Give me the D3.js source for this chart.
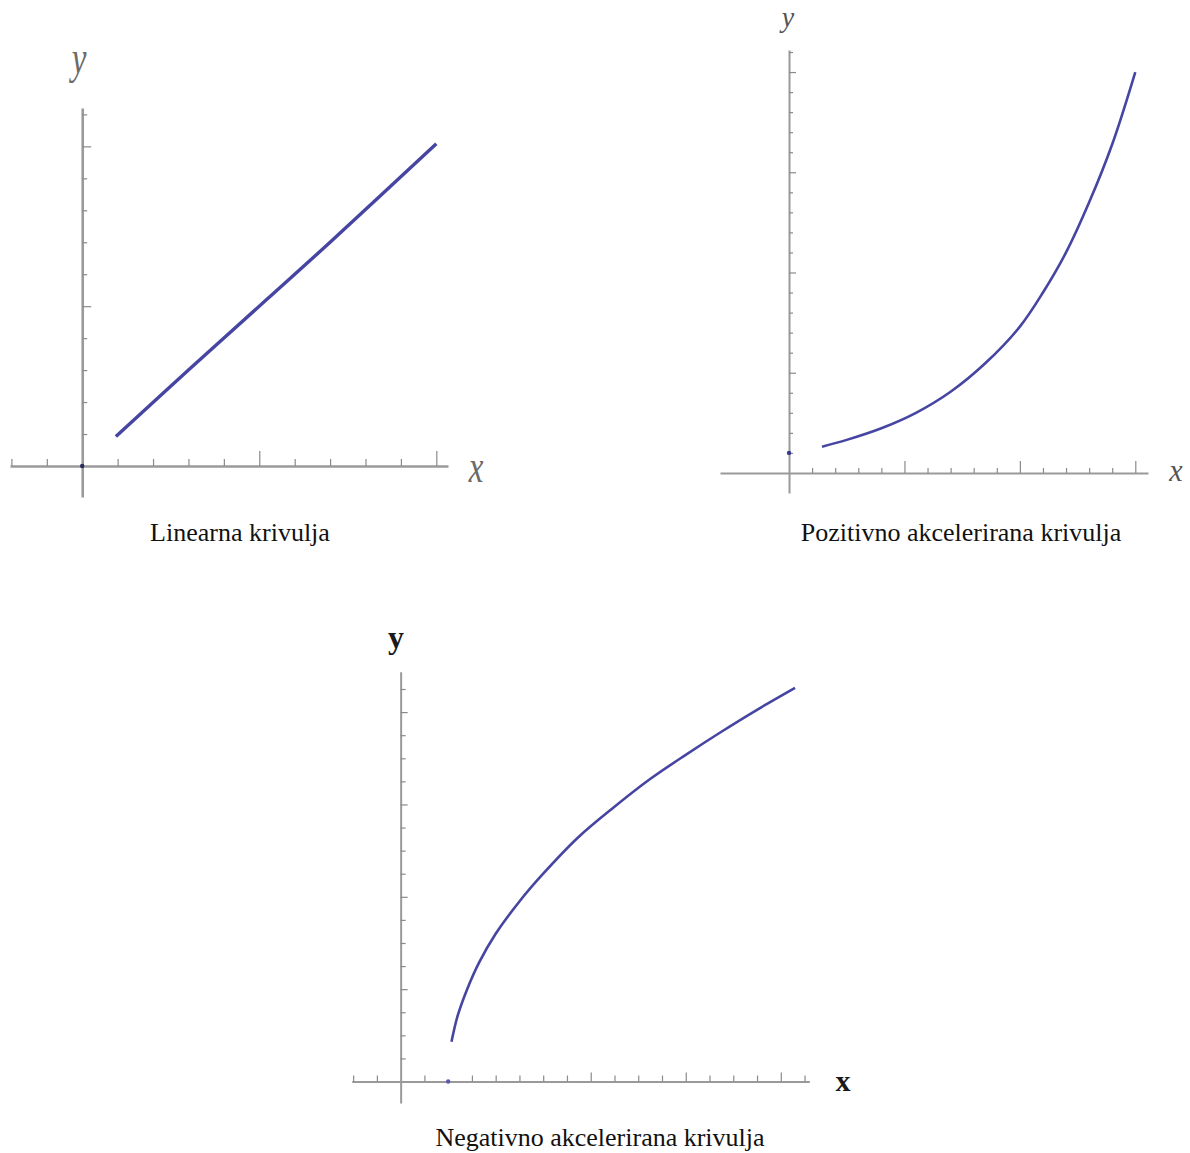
<!DOCTYPE html>
<html>
<head>
<meta charset="utf-8">
<script src="https://cdn.jsdelivr.net/npm/d3@7"></script>
<style>
  body { margin: 0; background: #fff; }
  svg { display: block; }
  .cap { font-family: "Liberation Serif", "Times New Roman", serif; font-size: 26px; fill: #111; }
</style>
</head>
<body>
<svg id="chart" width="1190" height="1153"></svg>
<script>
// values
const linearX = [0.95, 3, 5.2, 7, 10];
const linearY = [0.92, 3, 5.2, 7, 10.08];

const posX = [1.43, 2.5, 4, 5.5, 7, 8.5, 10, 11, 12, 13, 14, 15];
const posY = [1.31, 1.65, 2.23, 3.0, 4.05, 5.47, 7.3, 9.0, 11.0, 13.5, 16.4, 20.0];

const negX = [2.14, 2.4, 2.8, 3.3, 4, 5, 6, 7.5, 9, 10.5, 12, 13.5, 15, 16.6];
const negY = [1.72, 2.85, 4.0, 5.15, 6.4, 7.8, 9.0, 10.6, 11.9, 13.1, 14.15, 15.15, 16.1, 17.05];

// start dots
const linearDot = [0, 0];
const posDot = [0, 1];
const negDot = [2, 0];

// tick values
const linearXTicks = [-2, -1, 1, 2, 3, 4, 6, 7, 8, 9];
const linearXMajor = [5, 10];
const linearYTicks = [1, 2, 3, 4, 6, 7, 8, 9, 11];
const linearYMajor = [5, 10];

const posXTicks = [1, 2, 3, 4, 6, 7, 8, 9, 11, 12, 13, 14];
const posXMajor = [5, 10, 15];
const posYTicks = [1, 2, 3, 4, 6, 7, 8, 9, 11, 12, 13, 14, 16, 17, 18, 19, 21];
const posYMajor = [5, 10, 15, 20];

const negXTicks = [-2, -1, 1, 3, 4, 5, 6, 7, 9, 10, 11, 13, 14, 15, 17];
const negXMajor = [8, 12, 16];
const negYTicks = [1, 2, 3, 5, 6, 7, 9, 10, 11, 13, 14, 15, 17];
const negYMajor = [4, 8, 12, 16];

const captions = ["Linearna krivulja", "Pozitivno akcelerirana krivulja", "Negativno akcelerirana krivulja"];

const lineColor = "#4646a2";
const axisColor = "#9a9a9a";
const svg = d3.select("#chart");

function panel(cfg) {
  const x = d3.scaleLinear().domain(cfg.xDom).range(cfg.xRange);
  const y = d3.scaleLinear().domain(cfg.yDom).range(cfg.yRange);
  const g = svg.append("g");

  // x axis, ticks pointing up
  const gx = g.append("g").attr("transform", `translate(0,${y(0)})`);
  gx.call(d3.axisTop(x).tickValues(cfg.xTicks).tickSize(cfg.xMinor).tickSizeOuter(0).tickFormat(""));
  gx.append("g").call(d3.axisTop(x).tickValues(cfg.xMajor).tickSize(cfg.xMajorLen).tickSizeOuter(0).tickFormat(""))
    .select(".domain").remove();

  // y axis, ticks pointing right
  const gy = g.append("g").attr("transform", `translate(${x(0)},0)`);
  gy.call(d3.axisRight(y).tickValues(cfg.yTicks).tickSize(cfg.yMinor).tickSizeOuter(0).tickFormat(""));
  gy.append("g").call(d3.axisRight(y).tickValues(cfg.yMajor).tickSize(cfg.yMajorLen).tickSizeOuter(0).tickFormat(""))
    .select(".domain").remove();

  g.selectAll(".domain").attr("stroke", axisColor).attr("stroke-width", cfg.axisW);
  g.selectAll(".tick line").attr("stroke", "#8a8a8a").attr("stroke-width", 1.2);

  const pts = cfg.xs.map((v, i) => [v, cfg.ys[i]]);
  g.append("path")
    .datum(pts)
    .attr("fill", "none")
    .attr("stroke", lineColor)
    .attr("stroke-width", cfg.lineW)
    .attr("d", d3.line().x(d => x(d[0])).y(d => y(d[1])).curve(d3.curveCatmullRom.alpha(0.5)));

  g.append("circle")
    .attr("cx", x(cfg.dot[0])).attr("cy", y(cfg.dot[1]))
    .attr("r", 2.2).attr("fill", cfg.dotColor);

  // axis letters
  g.append("text")
    .attr("transform", `translate(${cfg.yLab[0]},${cfg.yLab[1]}) scale(1,${cfg.stretch})`)
    .attr("text-anchor", "middle")
    .style("font-family", "'Liberation Serif', 'Times New Roman', serif")
    .style("font-size", cfg.labSize + "px")
    .style("font-style", cfg.bold ? "normal" : "italic")
    .style("font-weight", cfg.bold ? "bold" : "normal")
    .attr("fill", cfg.labColor)
    .text("y");
  g.append("text")
    .attr("transform", `translate(${cfg.xLab[0]},${cfg.xLab[1]}) scale(1,${cfg.stretch})`)
    .attr("text-anchor", "middle")
    .style("font-family", "'Liberation Serif', 'Times New Roman', serif")
    .style("font-size", cfg.xLabSize + "px")
    .style("font-style", cfg.bold ? "normal" : "italic")
    .style("font-weight", cfg.bold ? "bold" : "normal")
    .attr("fill", cfg.labColor)
    .text("x");

  svg.append("text").attr("class", "cap")
    .attr("x", cfg.cap[0]).attr("y", cfg.cap[1])
    .attr("text-anchor", "middle")
    .text(cfg.capText);
}

panel({
  xs: linearX, ys: linearY, dot: linearDot, dotColor: "#2a2a60",
  xDom: [-2.04, 10.33], xRange: [10, 448],
  yDom: [-0.97, 11.2], yRange: [497, 108],
  xTicks: linearXTicks, xMajor: linearXMajor, xMinor: 7, xMajorLen: 15,
  yTicks: linearYTicks, yMajor: linearYMajor, yMinor: 5, yMajorLen: 9,
  axisW: 2.6, lineW: 3.4,
  yLab: [79, 73], xLab: [476, 482], labSize: 33, xLabSize: 33, stretch: 1.4, labColor: "#6a6a6a",
  cap: [240, 541], capText: captions[0]
});

panel({
  xs: posX, ys: posY, dot: posDot, dotColor: "#3a3a90",
  xDom: [-2.99, 15.55], xRange: [720, 1148],
  yDom: [-1, 21.1], yRange: [493, 50],
  xTicks: posXTicks, xMajor: posXMajor, xMinor: 5, xMajorLen: 12,
  yTicks: posYTicks, yMajor: posYMajor, yMinor: 4, yMajorLen: 7,
  axisW: 2, lineW: 2.6,
  yLab: [788, 27], xLab: [1176, 481], labSize: 28, xLabSize: 30, stretch: 1.05, labColor: "#555",
  cap: [961, 541], capText: captions[1]
});

panel({
  xs: negX, ys: negY, dot: negDot, dotColor: "#5a5ab0",
  xDom: [-2.06, 17.2], xRange: [351.7, 809.3],
  yDom: [-0.93, 17.75], yRange: [1103, 671.7],
  xTicks: negXTicks, xMajor: negXMajor, xMinor: 6, xMajorLen: 9,
  yTicks: negYTicks, yMajor: negYMajor, yMinor: 5, yMajorLen: 7,
  axisW: 2, lineW: 2.6,
  yLab: [396, 648], xLab: [843, 1091], labSize: 32, xLabSize: 30, stretch: 1, labColor: "#1a1a1a", bold: true,
  cap: [600, 1146], capText: captions[2]
});
</script>
</body>
</html>
